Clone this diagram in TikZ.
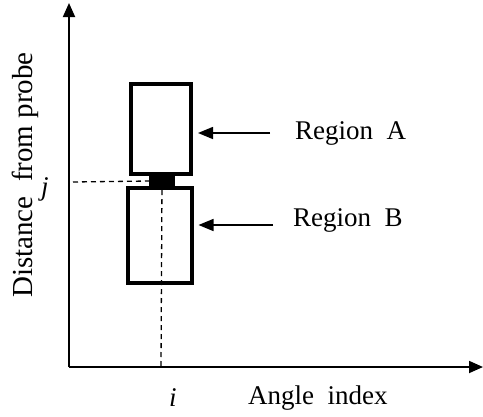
\documentclass[tikz,border=0pt]{standalone}
\usepackage{fontspec}
\setmainfont{Liberation Serif}
\usetikzlibrary{arrows.meta}
\begin{document}
\begin{tikzpicture}[x=1pt,y=-1pt,
  axis/.style={line width=1.8pt,-{Triangle[length=14pt,width=12pt]}},
  regbox/.style={draw,line width=4pt,inner sep=0pt},
  guide/.style={line width=1.3pt,dash pattern=on 5pt off 4pt},
  pointer/.style={line width=1.5pt,-{Triangle[length=15pt,width=12pt]},shorten >=5pt},
  lab/.style={font=\fontsize{27}{30}\selectfont,inner sep=0pt}]
\useasboundingbox (0,0) rectangle (483,416);
\coordinate (O) at (69,367);
\coordinate (ytip) at (69,3);
\coordinate (xtip) at (483,367);
\draw[axis] (O) -- (ytip);
\draw[axis] (O) -- (xtip);
% boxes
\node[regbox,minimum width=60pt,minimum height=90pt] (A) at (161,129) {};
\node[regbox,minimum width=64pt,minimum height=95pt] (B) at (159.5,235.5) {};
\node[fill,inner sep=0pt,minimum width=26pt,minimum height=14pt] (C) at (162,181) {};
% guides
\coordinate (jy) at (73,182);
\coordinate (ix) at (161,367);
\draw[guide] (jy) -- (C.west);
\draw[guide] (C.center) -- (ix);
% labels
\node[lab,font=\fontsize{27}{30}\selectfont\itshape] (j) at (45,189) {j};
\node[lab,font=\fontsize{27}{30}\selectfont\itshape] (i) at (173,398) {i};
\node[lab,anchor=west] (xl) at (248,398) {Angle\ \ index};
\node[lab,rotate=90,font=\fontsize{29}{32}\selectfont] (yl) at (25,175) {Distance\ \ from\ probe};
\node[lab,anchor=west] (ra) at (295,133) {Region\ \ A};
\node[lab,anchor=west] (rb) at (293,220) {Region\ \ B};
\coordinate (pa) at (270,133);
\coordinate (pb) at (273,225);
\draw[pointer] (pa) -- (pa -| A.east);
\draw[pointer] (pb) -- (pb -| B.east);
\end{tikzpicture}
\end{document}
